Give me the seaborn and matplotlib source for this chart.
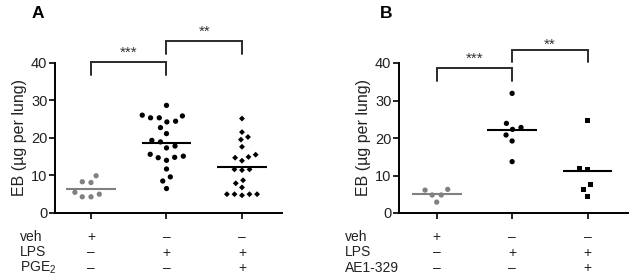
import numpy as np
import pandas as pd
import matplotlib
matplotlib.use("Agg")
import matplotlib.pyplot as plt
import seaborn as sns
from matplotlib.transforms import blended_transform_factory

# --------------------------------------------------------------------------------
# Data
# --------------------------------------------------------------------------------
groups = ["veh", "LPS", "LPS+drug"]

a_veh = [8.3, 8.1, 9.9, 5.0, 4.3, 4.3, 5.5]
a_lps = [28.6, 26.0, 25.3, 24.4, 24.2, 25.3, 25.8, 22.7, 21.1, 19.3, 18.9,
         17.8, 17.3, 15.6, 14.8, 14.0, 14.7, 15.1, 11.7, 9.6, 8.5, 6.5]
a_pge = [25.1, 21.5, 19.5, 20.2, 17.6, 14.9, 14.7, 15.5, 13.9, 11.6, 11.4,
         11.6, 8.7, 7.9, 6.8, 5.0, 5.0, 4.7, 5.0, 5.0]

b_veh = [6.3, 6.1, 4.8, 4.8, 2.9]
b_lps = [31.9, 23.9, 22.3, 22.8, 20.8, 19.2, 13.7]
b_ae  = [24.6, 11.7, 11.8, 7.7, 6.4, 4.5]

y_ticks = [0, 10, 20, 30, 40]

row_names_a = ["veh", "LPS", "PGE$_2$"]
row_names_b = ["veh", "LPS", "AE1-329"]
signs = [["+", "–", "–"],
         ["–", "+", "+"],
         ["–", "–", "+"]]

# brackets: (x0, x1, y_top, leg_bottom, label, label_y)
brackets_a = [(0, 1, 40.1, 36.8, "***", 42.6), (1, 2, 45.6, 42.3, "**", 48.2)]
brackets_b = [(0, 1, 38.6, 35.2, "***", 41.2), (1, 2, 43.6, 40.3, "**", 44.8)]

# --------------------------------------------------------------------------------
# Styling
# --------------------------------------------------------------------------------
sns.set_style("ticks")
plt.rcParams["font.family"] = ["Liberation Sans", "DejaVu Sans"]
plt.rcParams["mathtext.fontset"] = "custom"
plt.rcParams["mathtext.rm"] = "Liberation Sans"
plt.rcParams["mathtext.it"] = "Liberation Sans:italic"

W, H = 629, 279
GRAY = "#808080"
INK = "#222222"

fig = plt.figure(figsize=(W / 100, H / 100), dpi=100)


def draw_panel(ax, series, styles, brackets, row_names, row_x_px, letter, letter_px):
    # Swarm of points per group + mean line
    for i, (vals, (col, mk, sz)) in enumerate(zip(series, styles)):
        sns.swarmplot(x=[groups[i]] * len(vals), y=vals, order=groups, ax=ax,
                      color=col, marker=mk, size=sz, edgecolor="none",
                      linewidth=2.2, zorder=3)
        mean = pd.Series(vals).mean()
        ax.hlines(mean, i - 0.33, i + 0.33, color=col, lw=1.5, zorder=4)

    # Axes
    ax.set_ylim(0, 40)
    ax.set_yticks(y_ticks)
    ax.set_xticks(range(len(groups)))
    ax.set_xticklabels([])
    ax.set_xlabel(""); ax.set_ylabel("")
    ax.set_ylabel("EB (µg per lung)", fontsize=11.5, color=INK, labelpad=3)
    ax.tick_params(axis="both", length=4, width=1.2, color="black",
                   labelsize=10.5, labelcolor=INK, pad=1.5)
    for s in ["top", "right"]:
        ax.spines[s].set_visible(False)
    for s in ["left", "bottom"]:
        ax.spines[s].set_linewidth(1.4)
        ax.spines[s].set_color("black")

    # Significance brackets
    for x0, x1, yt, yb, lab, ly in brackets:
        ax.plot([x0, x0, x1, x1], [yb, yt, yt, yb], color="#2a2a2a",
                lw=1.4, clip_on=False, solid_joinstyle="miter")
        ax.text((x0 + x1) / 2, ly, lab, ha="center", va="center",
                fontsize=11, color="#333333", clip_on=False)

    # Treatment table below the axis
    tr = blended_transform_factory(ax.transData, fig.transFigure)
    row_y = [1 - 237 / H, 1 - 252.5 / H, 1 - 268 / H]
    for r, name in enumerate(row_names):
        fig.text(row_x_px / W, row_y[r], name, ha="left", va="center",
                 fontsize=10, color=INK)
        for c in range(len(groups)):
            ax.text(c, row_y[r], signs[r][c], transform=tr, ha="center",
                    va="center", fontsize=10, color=INK)

    # Panel letter
    fig.text(letter_px[0] / W, 1 - letter_px[1] / H, letter, fontsize=12.5,
             fontweight="bold", ha="left", va="center", color="black")


# Panel A
ax_a = fig.add_axes([55 / W, 1 - 213 / H, (282 - 55) / W, (213 - 62.5) / H])
draw_panel(ax_a, [a_veh, a_lps, a_pge],
           [(GRAY, "o", 3.8), ("black", "o", 3.8), ("black", "D", 3.0)],
           brackets_a, row_names_a, 20, "A", (32, 13))
ax_a.set_xlim(-0.477, 2.53)

# Panel B
ax_b = fig.add_axes([399 / W, 1 - 213 / H, (W - 399) / W, (213 - 63) / H])
draw_panel(ax_b, [b_veh, b_lps, b_ae],
           [(GRAY, "o", 3.8), ("black", "o", 3.8), ("black", "s", 3.6)],
           brackets_b, row_names_b, 345, "B", (380, 13))
ax_b.set_xlim(-0.5, 2.55)

fig.savefig("out.png", dpi=100)
